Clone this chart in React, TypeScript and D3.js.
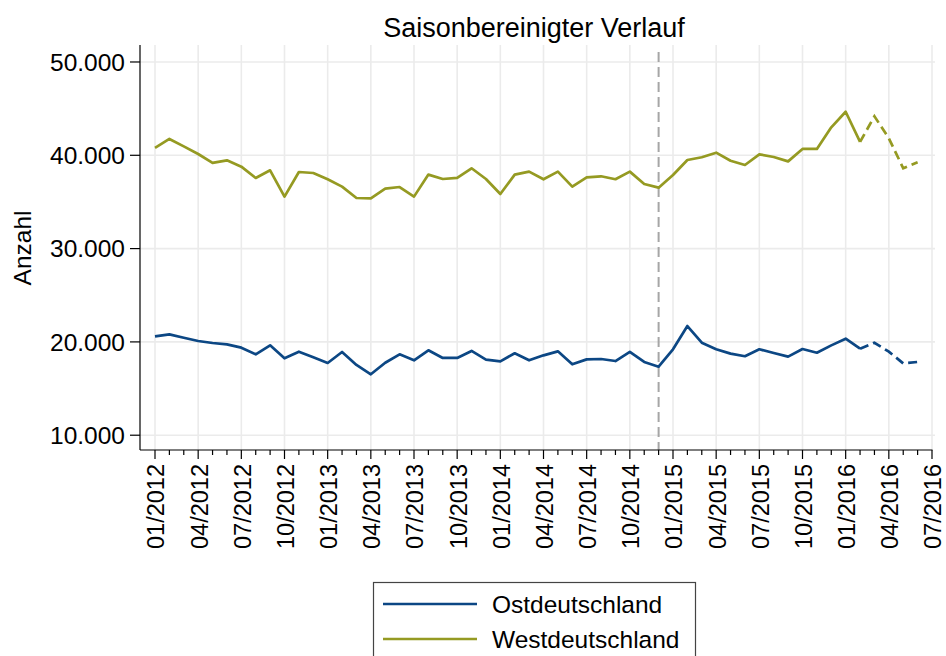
import React from "react";
import * as d3 from "d3";

const months: string[] = [
  "01/2012","02/2012","03/2012","04/2012","05/2012","06/2012","07/2012","08/2012","09/2012","10/2012","11/2012","12/2012",
  "01/2013","02/2013","03/2013","04/2013","05/2013","06/2013","07/2013","08/2013","09/2013","10/2013","11/2013","12/2013",
  "01/2014","02/2014","03/2014","04/2014","05/2014","06/2014","07/2014","08/2014","09/2014","10/2014","11/2014","12/2014",
  "01/2015","02/2015","03/2015","04/2015","05/2015","06/2015","07/2015","08/2015","09/2015","10/2015","11/2015","12/2015",
  "01/2016","02/2016","03/2016","04/2016","05/2016","06/2016",
];

const westValues: number[] = [
  40800, 41750, 40950, 40140, 39180, 39460, 38780, 37570, 38390, 35570, 38210, 38100,
  37430, 36640, 35420, 35390, 36420, 36600, 35570, 37930, 37460, 37570, 38610, 37460,
  35850, 37930, 38250, 37430, 38250, 36640, 37640, 37750, 37430, 38250, 36920, 36530,
  37890, 39500, 39790, 40280, 39420, 38960, 40100, 39820, 39350, 40680, 40680, 43000,
  44670, 41430, 44180, 41820, 38610, 39250,
];

const ostValues: number[] = [
  20600, 20810, 20450, 20100, 19880, 19740, 19380, 18670, 19630, 18240, 18950, 18350,
  17740, 18920, 17530, 16530, 17770, 18670, 18030, 19100, 18280, 18280, 19030, 18100,
  17920, 18780, 18030, 18560, 18990, 17600, 18130, 18170, 17950, 18920, 17850, 17340,
  19210, 21700, 19910, 19210, 18740, 18460, 19210, 18810, 18420, 19240, 18840, 19630,
  20340, 19270, 19910, 18950, 17700, 17850,
];

const xTickLabels: string[] = [
  "01/2012","04/2012","07/2012","10/2012","01/2013","04/2013","07/2013","10/2013",
  "01/2014","04/2014","07/2014","10/2014","01/2015","04/2015","07/2015","10/2015",
  "01/2016","04/2016","07/2016",
];
const yTickValues: number[] = [10000, 20000, 30000, 40000, 50000];
const yTickLabels: string[] = ["10.000", "20.000", "30.000", "40.000", "50.000"];

const seriesNames: string[] = ["Ostdeutschland", "Westdeutschland"];
const breakMonth = "12/2014";
const forecastStart = "02/2016";

const W = 946, H = 656;
const FONT = "'Liberation Sans', Arial, Helvetica, sans-serif";
const BLUE = "#0c4784";
const OLIVE = "#959a22";

export default function App() {
  const x = d3.scaleLinear().domain([0, 54]).range([155, 932]);
  const y = d3.scaleLinear().domain([8415, 51820]).range([450, 45]);
  const fIdx = months.indexOf(forecastStart);
  const bIdx = months.indexOf(breakMonth);

  const line = d3.line<[number, number]>().x(d => x(d[0])).y(d => y(d[1]));
  const mk = (vals: number[]) => {
    const pts: [number, number][] = vals.map((v, i) => [i, v]);
    return {
      solid: line(pts.slice(0, fIdx + 1)) || "",
      dashed: line(pts.slice(fIdx)) || "",
    };
  };
  const series = [
    { name: seriesNames[0], color: BLUE, ...mk(ostValues) },
    { name: seriesNames[1], color: OLIVE, ...mk(westValues) },
  ];

  const plotLeft = 140, plotRight = 935, plotTop = 45, plotBottom = 450;
  const monthIdx = d3.range(0, 55);

  return (
    <svg width={W} height={H} style={{ position: "absolute", left: 0, top: 0, background: "#fff" }} fontFamily={FONT}>
      <rect x={0} y={0} width={W} height={H} fill="#fff" />
      {/* gridlines */}
      {yTickValues.map(v => (
        <line key={"gy" + v} x1={plotLeft} x2={plotRight} y1={y(v)} y2={y(v)} stroke="#ebebeb" strokeWidth={1.6} />
      ))}
      {xTickLabels.map((_, k) => (
        <line key={"gx" + k} x1={x(k * 3)} x2={x(k * 3)} y1={plotTop} y2={plotBottom} stroke="#ebebeb" strokeWidth={1.6} />
      ))}
      {/* break line */}
      <line x1={x(bIdx)} x2={x(bIdx)} y1={52} y2={plotBottom} stroke="#a6a6a6" strokeWidth={2} strokeDasharray="10,5" />
      {/* series */}
      {series.map(s => (
        <g key={s.name}>
          <path d={s.solid} fill="none" stroke={s.color} strokeWidth={2.7} strokeLinejoin="round" />
          <path d={s.dashed} fill="none" stroke={s.color} strokeWidth={2.7} strokeDasharray="9,5" />
        </g>
      ))}
      {/* axes */}
      <line x1={plotLeft} x2={plotLeft} y1={plotTop} y2={plotBottom} stroke="#000" strokeWidth={1.2} />
      <line x1={plotLeft} x2={x(54) + 0.5} y1={plotBottom} y2={plotBottom} stroke="#000" strokeWidth={1.2} />
      {yTickValues.map((v, k) => (
        <g key={"yt" + v}>
          <line x1={130} x2={plotLeft} y1={y(v)} y2={y(v)} stroke="#000" strokeWidth={1.2} />
          <text x={125} y={y(v)} dy="0.36em" textAnchor="end" fontSize={24.5} fill="#000">{yTickLabels[k]}</text>
        </g>
      ))}
      {monthIdx.map(i => (
        <line key={"xt" + i} x1={x(i)} x2={x(i)} y1={plotBottom} y2={plotBottom + (i % 3 === 0 ? 9 : 5)} stroke="#000" strokeWidth={1.2} />
      ))}
      {xTickLabels.map((lab, k) => (
        <text key={"xl" + k} transform={`translate(${x(k * 3) + 1},464) rotate(-90)`} dy="0.36em" textAnchor="end" fontSize={23.5} fill="#000">{lab}</text>
      ))}
      {/* axis title */}
      <text transform={`translate(22,248) rotate(-90)`} dy="0.36em" textAnchor="middle" fontSize={24.5} fill="#000">Anzahl</text>
      {/* title */}
      <text x={534} y={37} textAnchor="middle" fontSize={27} fill="#000">Saisonbereinigter Verlauf</text>
      {/* legend */}
      <rect x={373.5} y={582.5} width={322} height={100} fill="#fff" stroke="#444" strokeWidth={1.2} />
      {series.map((s, k) => (
        <g key={"lg" + k}>
          <line x1={383} x2={477} y1={604 + k * 35} y2={604 + k * 35} stroke={s.color} strokeWidth={2.7} />
          <text x={492} y={604 + k * 35} dy="0.36em" fontSize={24.5} fill="#000">{s.name}</text>
        </g>
      ))}
    </svg>
  );
}
